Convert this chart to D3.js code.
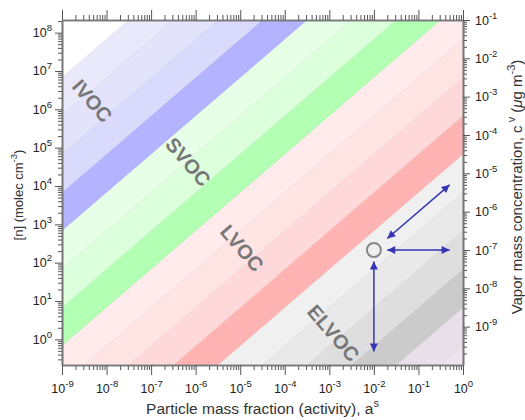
<!DOCTYPE html>
<html>
<head>
<meta charset="utf-8">
<script src="https://cdn.jsdelivr.net/npm/d3@7"></script>
<style>
  body { margin: 0; background: #fff; }
  text { font-family: "Liberation Sans", Arial, sans-serif; }
</style>
</head>
<body>
<div id="chart"></div>
<script>
// volatility bins: edges in log10 C* (ug m-3), one fill per bin (low -> high C*)
var binEdges = [-20, -9.5, -8.5, -7.5, -6.5, -5.5, -4.5, -3.5, -2.5, -1.5, -0.5, 0.5, 1.5, 2.5, 3.5, 4.5, 5.5, 6.5];
var binColors = ["#ede4ee", "#e9dfea",
                 "#cbcbcb", "#dedede", "#e9e9e9", "#f0f0f0",
                 "#ffb3b3", "#ffd9d9", "#ffe4e4", "#ffebeb",
                 "#b3ffb3", "#dcffdc", "#e6ffe6",
                 "#b3b3ff", "#dadafc", "#e3e3fb", "#e9e9fb"];

// class labels (centre of text, in activity / vapour concentration)
var classNames = ["IVOC", "SVOC", "LVOC", "ELVOC"];
var classActivity = [Math.pow(10, -8.32), Math.pow(10, -6.17), Math.pow(10, -4.96), Math.pow(10, -2.91)];
var classVapor = [Math.pow(10, -3.11), Math.pow(10, -4.70), Math.pow(10, -6.95), Math.pow(10, -9.17)];

// example compound and the ways it can move
var pointActivity = 1e-2, pointVapor = 1e-7;
var arrowA0 = [Math.pow(10, -1.7), Math.pow(10, -1.7), 1e-2];
var arrowC0 = [Math.pow(10, -6.7), 1e-7, Math.pow(10, -7.3)];
var arrowA1 = [Math.pow(10, -0.3), Math.pow(10, -0.3), 1e-2];
var arrowC1 = [Math.pow(10, -5.3), 1e-7, Math.pow(10, -9.65)];

// tick exponents
var xTickExp = [-9, -8, -7, -6, -5, -4, -3, -2, -1, 0];
var nTickExp = [0, 1, 2, 3, 4, 5, 6, 7, 8];
var cTickExp = [-9, -8, -7, -6, -5, -4, -3, -2, -1];

// [n] = cV * NA / M  (offset in decades)
var nOffset = 9.33;

var margin = {top: 20, right: 62, bottom: 55, left: 62},
    width = 525 - margin.left - margin.right,
    height = 420 - margin.top - margin.bottom;

var svg = d3.select("#chart")
  .append("svg")
    .attr("width", 525)
    .attr("height", 420)
  .append("g")
    .attr("transform", "translate(" + margin.left + "," + margin.top + ")");

var x = d3.scaleLog().domain([1e-9, 1]).range([0, width]);
var yC = d3.scaleLog().domain([1e-10, 1e-1]).range([height, 0]);
var yN = d3.scaleLog().domain([Math.pow(10, nOffset - 10), Math.pow(10, nOffset - 1)]).range([height, 0]);

svg.append("clipPath").attr("id", "plotclip")
  .append("rect").attr("width", width).attr("height", height);

var plot = svg.append("g").attr("clip-path", "url(#plotclip)");

// bands: lo <= log cV - log a <= hi
var aLo = 1e-12, aHi = 1e3;
var bands = d3.range(binColors.length).map(function(i) {
  return {lo: Math.pow(10, binEdges[i]), hi: Math.pow(10, binEdges[i + 1]), color: binColors[i]};
});

plot.selectAll("path.band")
  .data(bands)
  .enter()
  .append("path")
  .attr("class", "band")
  .attr("fill", function(d) { return d.color; })
  .attr("d", function(d) {
    var pts = [[aLo, d.lo * aLo], [aHi, d.lo * aHi], [aHi, d.hi * aHi], [aLo, d.hi * aLo]];
    return "M" + pts.map(function(p) { return x(p[0]) + "," + yC(p[1]); }).join("L") + "Z";
  });

// faint line on each bin edge
plot.selectAll("line.edge")
  .data(binEdges.slice(1))
  .enter()
  .append("line")
  .attr("class", "edge")
  .attr("x1", x(aLo)).attr("y1", function(d) { return yC(Math.pow(10, d) * aLo); })
  .attr("x2", x(aHi)).attr("y2", function(d) { return yC(Math.pow(10, d) * aHi); })
  .attr("stroke", "#000")
  .attr("stroke-opacity", 0.06)
  .attr("stroke-width", 1);

// class labels
plot.selectAll("text.cls")
  .data(classNames)
  .enter()
  .append("text")
  .attr("class", "cls")
  .attr("transform", function(d, i) {
    return "translate(" + x(classActivity[i]) + "," + yC(classVapor[i]) + ") rotate(49)";
  })
  .attr("text-anchor", "middle")
  .attr("dominant-baseline", "central")
  .attr("font-size", "20px")
  .attr("font-weight", "bold")
  .attr("fill", "#777")
  .text(function(d) { return d; });

// arrows
var blue = "#3535b5";
var defs = svg.append("defs");
defs.append("marker")
  .attr("id", "head")
  .attr("viewBox", "0 0 10 10")
  .attr("refX", 10).attr("refY", 5)
  .attr("markerUnits", "userSpaceOnUse")
  .attr("markerWidth", 10).attr("markerHeight", 8)
  .attr("orient", "auto-start-reverse")
  .append("path")
  .attr("d", "M0,0L10,5L0,10Z")
  .attr("fill", blue);

svg.selectAll("line.arrow")
  .data(arrowA0)
  .enter()
  .append("line")
  .attr("class", "arrow")
  .attr("x1", function(d, i) { return x(arrowA0[i]); })
  .attr("y1", function(d, i) { return yC(arrowC0[i]); })
  .attr("x2", function(d, i) { return x(arrowA1[i]); })
  .attr("y2", function(d, i) { return yC(arrowC1[i]); })
  .attr("stroke", blue)
  .attr("stroke-width", 1.5)
  .attr("marker-start", "url(#head)")
  .attr("marker-end", "url(#head)");

svg.append("circle")
  .attr("cx", x(pointActivity))
  .attr("cy", yC(pointVapor))
  .attr("r", 7)
  .attr("fill", "none")
  .attr("stroke", "#888")
  .attr("stroke-width", 2);

// axes
function minorTicks(scale) {
  var dom = scale.domain(), lo = Math.min(dom[0], dom[1]), hi = Math.max(dom[0], dom[1]), v = [];
  for (var e = Math.floor(Math.log10(lo)); e <= Math.ceil(Math.log10(hi)); e++) {
    for (var k = 2; k < 10; k++) {
      var t = k * Math.pow(10, e);
      if (t >= lo && t <= hi) v.push(t);
    }
  }
  return v;
}

function powLabels(g, exps) {
  g.selectAll(".tick text").each(function(d, i) {
    var t = d3.select(this).text("");
    t.append("tspan").text("10");
    t.append("tspan").attr("dy", "-6").attr("font-size", "9.5px").text(String(exps[i]));
  });
}

function styleAxis(g) {
  g.select(".domain").attr("stroke", "#777").attr("stroke-width", 1.6);
  g.selectAll(".tick line").attr("stroke", "#555").attr("stroke-width", 1);
  g.selectAll(".tick text").attr("fill", "#222").attr("font-size", "12.5px");
}

var pows = function(exps) { return exps.map(function(e) { return Math.pow(10, e); }); };

// bottom
var gxMinor = svg.append("g").attr("transform", "translate(0," + height + ")")
  .call(d3.axisBottom(x).tickValues(minorTicks(x)).tickSize(5).tickSizeOuter(0).tickFormat(""));
var gx = svg.append("g").attr("transform", "translate(0," + height + ")")
  .call(d3.axisBottom(x).tickValues(pows(xTickExp)).tickSize(10).tickSizeOuter(0).tickPadding(9));
powLabels(gx, xTickExp);

// top
var gtMinor = svg.append("g")
  .call(d3.axisTop(x).tickValues(minorTicks(x)).tickSize(5).tickSizeOuter(0).tickFormat(""));
var gt = svg.append("g")
  .call(d3.axisTop(x).tickValues(pows(xTickExp)).tickSize(10).tickSizeOuter(0).tickFormat(""));

// left
var gyMinor = svg.append("g")
  .call(d3.axisLeft(yN).tickValues(minorTicks(yN)).tickSize(4).tickSizeOuter(0).tickFormat(""));
var gy = svg.append("g")
  .call(d3.axisLeft(yN).tickValues(pows(nTickExp)).tickSize(7).tickSizeOuter(0).tickPadding(3));
powLabels(gy, nTickExp);

// right
var grMinor = svg.append("g").attr("transform", "translate(" + width + ",0)")
  .call(d3.axisRight(yC).tickValues(minorTicks(yC)).tickSize(4).tickSizeOuter(0).tickFormat(""));
var gr = svg.append("g").attr("transform", "translate(" + width + ",0)")
  .call(d3.axisRight(yC).tickValues(pows(cTickExp)).tickSize(7).tickSizeOuter(0).tickPadding(5));
powLabels(gr, cTickExp);

[gxMinor, gx, gtMinor, gt, gyMinor, gy, grMinor, gr].forEach(styleAxis);

// axis titles
var xt = svg.append("text")
  .attr("x", width / 2)
  .attr("y", height + 49)
  .attr("text-anchor", "middle")
  .attr("font-size", "15.5px")
  .attr("fill", "#333");
xt.append("tspan").text("Particle mass fraction (activity), a");
xt.append("tspan").attr("dy", "-7").attr("font-size", "11px").text("s");

var lt = svg.append("text")
  .attr("transform", "translate(" + (23 - margin.left) + "," + (195 - margin.top) + ") rotate(-90)")
  .attr("text-anchor", "middle")
  .attr("font-size", "13px")
  .attr("fill", "#333");
lt.append("tspan").text("[n] (molec cm");
lt.append("tspan").attr("dy", "-6").attr("font-size", "9.5px").text("-3");
lt.append("tspan").attr("dy", "6").text(")");

var rt = svg.append("text")
  .attr("transform", "translate(" + (522 - margin.left) + "," + (187 - margin.top) + ") rotate(-90)")
  .attr("text-anchor", "middle")
  .attr("font-size", "15px")
  .attr("fill", "#333");
rt.append("tspan").text("Vapor mass concentration, c");
rt.append("tspan").attr("dy", "-7").attr("font-size", "11px").text(" v");
rt.append("tspan").attr("dy", "7").text(" (");
rt.append("tspan").attr("font-style", "italic").text("\u03bc");
rt.append("tspan").text("g m");
rt.append("tspan").attr("dy", "-7").attr("font-size", "11px").text("-3");
rt.append("tspan").attr("dy", "7").text(")");
</script>
</body>
</html>
